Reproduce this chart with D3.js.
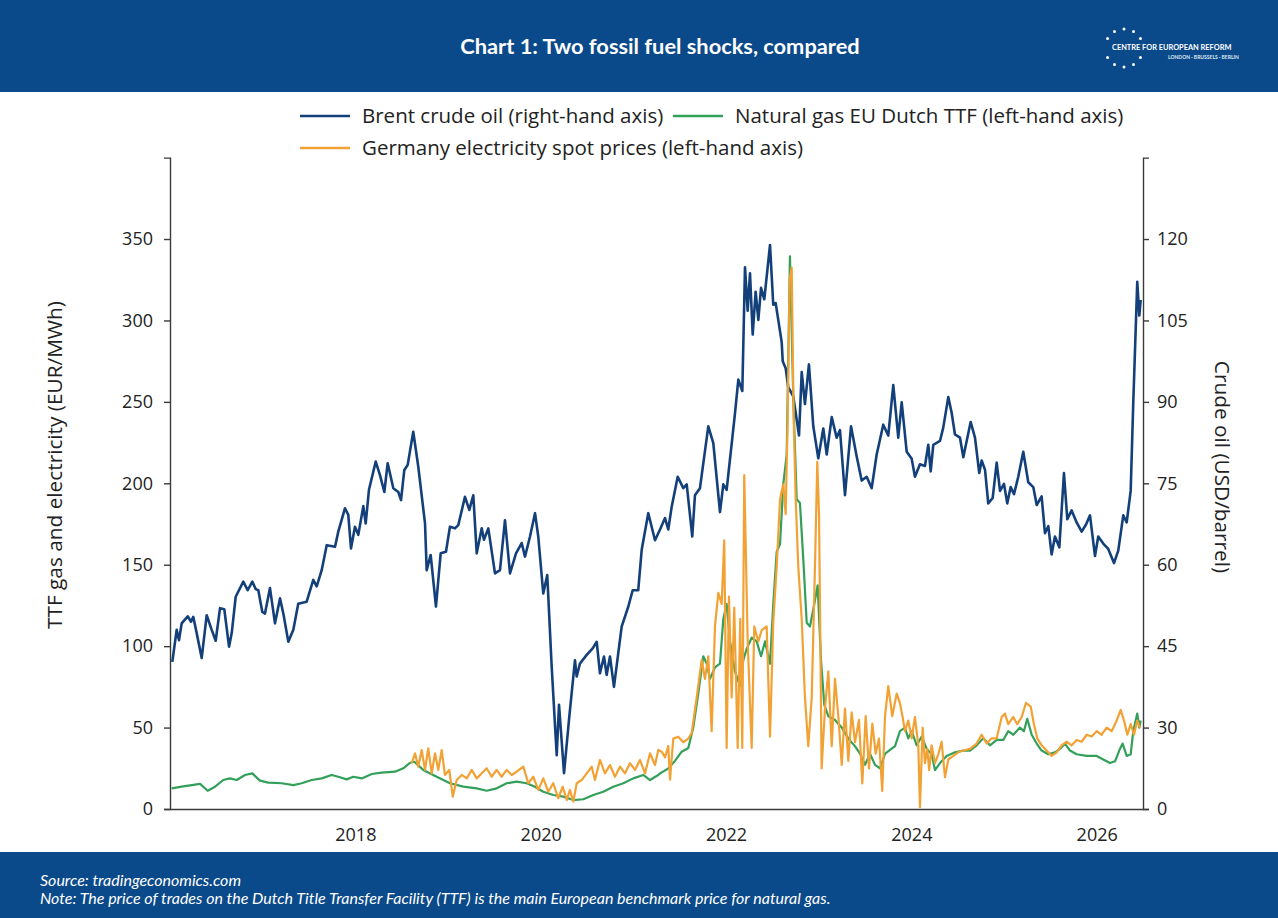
<!DOCTYPE html>
<html>
<head>
<meta charset="utf-8">
<script src="https://cdn.jsdelivr.net/npm/d3@7/dist/d3.min.js"></script>
<style>
  html, body { margin: 0; padding: 0; background: #fff; }
  svg { display: block; }
</style>
</head>
<body>
<svg id="chart" width="1278" height="918"></svg>
<script>
// ---- Data (decimal year, value) ----
// Brent crude oil, USD/barrel (right-hand axis)
const brent = [
  [2016.025,42.1],[2016.072,48.0],[2016.097,46.1],[2016.126,49.2],[2016.191,50.5],[2016.227,49.5],
  [2016.251,50.4],[2016.288,47.4],[2016.342,42.8],[2016.396,50.7],[2016.450,48.0],[2016.493,46.0],
  [2016.540,52.0],[2016.586,51.8],[2016.637,44.9],[2016.666,47.4],[2016.709,54.1],[2016.791,56.9],
  [2016.838,55.3],[2016.888,56.9],[2016.925,55.5],[2016.953,55.3],[2016.996,51.3],[2017.025,51.0],
  [2017.079,55.7],[2017.133,49.2],[2017.187,53.8],[2017.223,51.0],[2017.277,45.8],[2017.331,48.0],
  [2017.384,52.8],[2017.475,53.2],[2017.546,57.2],[2017.583,56.0],[2017.637,59.0],[2017.691,63.6],
  [2017.781,63.3],[2017.816,66.1],[2017.888,70.4],[2017.924,69.2],[2017.953,63.0],[2017.996,67.0],
  [2018.032,65.5],[2018.086,70.8],[2018.112,67.6],[2018.147,73.8],[2018.220,79.0],[2018.266,76.5],
  [2018.313,73.4],[2018.349,78.7],[2018.410,74.1],[2018.464,73.4],[2018.493,71.9],[2018.528,77.4],
  [2018.565,78.4],[2018.625,84.5],[2018.679,78.1],[2018.752,67.6],[2018.770,59.0],[2018.813,61.8],
  [2018.870,52.3],[2018.921,62.1],[2018.978,62.4],[2019.021,67.0],[2019.075,66.7],[2019.111,67.3],
  [2019.183,72.5],[2019.230,70.1],[2019.273,72.8],[2019.310,62.1],[2019.364,66.7],[2019.388,64.6],
  [2019.435,66.7],[2019.507,58.4],[2019.561,59.0],[2019.615,68.2],[2019.669,58.4],[2019.734,62.1],
  [2019.795,64.0],[2019.831,61.5],[2019.885,65.2],[2019.939,69.5],[2019.974,65.2],[2020.028,54.7],
  [2020.071,58.1],[2020.119,41.2],[2020.173,24.9],[2020.198,34.2],[2020.252,21.6],[2020.309,32.0],
  [2020.370,42.4],[2020.389,39.4],[2020.424,41.8],[2020.497,43.4],[2020.561,44.6],[2020.605,45.8],
  [2020.640,40.0],[2020.683,43.1],[2020.712,39.7],[2020.748,43.1],[2020.791,37.5],[2020.874,48.6],
  [2020.946,52.3],[2020.993,55.3],[2021.053,55.3],[2021.090,62.7],[2021.161,69.5],[2021.215,65.8],
  [2021.234,64.5],[2021.288,66.5],[2021.342,68.6],[2021.377,66.5],[2021.414,70.7],[2021.479,76.2],
  [2021.539,74.1],[2021.576,74.8],[2021.636,65.2],[2021.665,72.8],[2021.719,74.1],[2021.809,85.5],
  [2021.863,82.4],[2021.935,69.7],[2021.971,74.8],[2022.007,73.8],[2022.097,87.9],[2022.133,94.1],
  [2022.176,92.0],[2022.205,114.8],[2022.234,106.8],[2022.259,113.7],[2022.288,102.4],[2022.320,110.3],
  [2022.349,105.1],[2022.378,111.0],[2022.413,108.9],[2022.475,118.9],[2022.510,107.9],[2022.536,108.2],
  [2022.601,101.0],[2022.612,97.5],[2022.644,96.2],[2022.672,92.7],[2022.726,91.0],[2022.788,83.8],
  [2022.817,95.5],[2022.852,89.6],[2022.895,96.9],[2022.942,85.5],[2022.996,79.6],[2023.050,85.1],
  [2023.087,80.3],[2023.141,87.2],[2023.194,83.4],[2023.230,84.8],[2023.284,72.8],[2023.349,85.5],
  [2023.410,80.0],[2023.464,75.5],[2023.518,76.2],[2023.572,74.1],[2023.626,80.3],[2023.697,85.8],
  [2023.751,83.8],[2023.805,93.1],[2023.859,83.4],[2023.896,89.9],[2023.950,80.8],[2024.004,79.5],
  [2024.039,76.2],[2024.093,78.5],[2024.147,78.2],[2024.183,82.1],[2024.209,77.2],[2024.237,82.1],
  [2024.309,82.8],[2024.345,85.3],[2024.399,90.9],[2024.435,88.0],[2024.471,84.0],[2024.525,83.4],
  [2024.561,79.8],[2024.640,86.3],[2024.687,83.4],[2024.733,76.9],[2024.759,79.2],[2024.795,77.5],
  [2024.830,71.3],[2024.878,72.3],[2024.921,78.8],[2024.957,73.6],[2025.000,74.9],[2025.035,71.3],
  [2025.072,74.3],[2025.108,73.0],[2025.154,76.2],[2025.208,80.8],[2025.262,75.2],[2025.316,74.3],
  [2025.353,71.0],[2025.406,72.6],[2025.442,65.8],[2025.478,67.1],[2025.514,61.9],[2025.550,65.2],
  [2025.597,63.2],[2025.647,76.9],[2025.683,68.4],[2025.730,70.0],[2025.784,67.8],[2025.838,66.1],
  [2025.885,67.4],[2025.928,69.1],[2025.982,61.6],[2026.017,65.2],[2026.071,63.9],[2026.125,62.9],
  [2026.187,60.3],[2026.233,62.6],[2026.287,69.1],[2026.324,67.8],[2026.367,73.6],[2026.395,89.9],
  [2026.438,112.1],[2026.460,105.9],[2026.475,108.8]
];

// Natural gas EU Dutch TTF, EUR/MWh (left-hand axis)
const ttf = [
  [2016.018,12.7],[2016.126,13.7],[2016.234,14.7],[2016.324,15.4],[2016.407,11.2],[2016.486,13.7],
  [2016.575,17.8],[2016.647,18.8],[2016.720,17.8],[2016.809,20.9],[2016.888,21.9],[2016.971,17.4],
  [2017.061,16.2],[2017.205,15.8],[2017.331,14.7],[2017.421,15.8],[2017.529,17.8],[2017.637,18.8],
  [2017.745,20.9],[2017.834,19.5],[2017.907,18.2],[2017.978,19.8],[2018.069,18.8],[2018.177,21.5],
  [2018.284,22.3],[2018.428,22.9],[2018.518,25.0],[2018.590,28.4],[2018.636,29.0],[2018.733,24.0],
  [2018.878,19.8],[2019.021,15.8],[2019.165,13.7],[2019.310,12.7],[2019.418,11.2],[2019.525,12.7],
  [2019.633,15.8],[2019.741,16.8],[2019.849,15.8],[2019.939,13.7],[2020.028,10.6],[2020.136,8.6],
  [2020.244,7.6],[2020.352,5.5],[2020.460,6.0],[2020.568,8.6],[2020.676,10.6],[2020.784,13.7],
  [2020.892,15.8],[2020.999,18.8],[2021.107,20.9],[2021.180,17.8],[2021.269,20.9],[2021.306,22.5],
  [2021.377,24.9],[2021.449,29.5],[2021.522,35.2],[2021.593,37.5],[2021.647,50.1],[2021.701,70.8],
  [2021.755,93.8],[2021.792,89.2],[2021.827,79.9],[2021.881,86.9],[2021.935,89.2],[2021.971,116.7],
  [2022.007,125.9],[2022.043,102.9],[2022.097,84.5],[2022.151,75.4],[2022.187,91.5],[2022.223,98.3],
  [2022.277,105.2],[2022.331,102.9],[2022.378,93.8],[2022.421,102.9],[2022.475,89.2],[2022.510,125.9],
  [2022.547,158.0],[2022.583,162.6],[2022.618,199.4],[2022.655,217.7],[2022.690,339.4],[2022.726,252.2],
  [2022.763,190.2],[2022.798,187.9],[2022.834,153.4],[2022.871,114.4],[2022.906,112.1],[2022.953,125.9],
  [2022.989,137.4],[2023.025,91.5],[2023.061,63.9],[2023.104,57.0],[2023.176,54.7],[2023.249,50.1],
  [2023.320,43.2],[2023.392,38.6],[2023.446,34.0],[2023.500,27.1],[2023.554,34.0],[2023.608,27.1],
  [2023.662,24.9],[2023.717,34.0],[2023.770,36.3],[2023.824,38.6],[2023.877,47.8],[2023.931,50.0],
  [2023.967,43.4],[2024.004,47.8],[2024.058,39.1],[2024.112,44.5],[2024.166,36.9],[2024.220,33.6],
  [2024.255,23.9],[2024.309,28.2],[2024.381,32.6],[2024.471,34.8],[2024.561,35.9],[2024.633,35.9],
  [2024.705,39.1],[2024.776,43.4],[2024.849,39.1],[2024.921,42.4],[2024.992,42.4],[2025.046,47.8],
  [2025.100,45.6],[2025.172,50.0],[2025.215,47.8],[2025.251,55.4],[2025.299,45.6],[2025.353,40.2],
  [2025.406,35.9],[2025.478,33.6],[2025.550,34.8],[2025.604,36.9],[2025.658,40.2],[2025.712,35.9],
  [2025.784,33.6],[2025.892,32.6],[2026.000,32.6],[2026.071,30.4],[2026.144,28.2],[2026.198,29.3],
  [2026.251,36.9],[2026.280,40.2],[2026.324,32.6],[2026.367,33.6],[2026.395,47.8],[2026.438,58.6],
  [2026.460,50.0],[2026.475,54.3]
];

// Germany electricity spot prices, EUR/MWh (left-hand axis)
const power = [
  [2018.608,28.1],[2018.644,34.2],[2018.679,26.0],[2018.716,36.2],[2018.752,24.0],[2018.787,37.3],
  [2018.824,21.9],[2018.860,34.2],[2018.895,24.0],[2018.932,36.2],[2018.967,20.9],[2019.014,24.0],
  [2019.051,7.6],[2019.094,17.8],[2019.148,20.9],[2019.202,18.8],[2019.256,24.0],[2019.310,18.8],
  [2019.364,21.9],[2019.418,25.0],[2019.471,19.8],[2019.525,24.0],[2019.579,19.8],[2019.633,24.0],
  [2019.687,20.9],[2019.741,22.9],[2019.813,26.0],[2019.866,15.8],[2019.920,19.8],[2019.974,11.7],
  [2020.028,18.8],[2020.082,10.6],[2020.136,15.8],[2020.190,6.6],[2020.238,13.7],[2020.281,5.5],
  [2020.316,11.7],[2020.352,4.5],[2020.389,15.8],[2020.443,17.8],[2020.497,21.9],[2020.551,26.0],
  [2020.586,17.8],[2020.640,30.1],[2020.694,21.9],[2020.748,27.0],[2020.802,19.8],[2020.856,26.0],
  [2020.910,21.9],[2020.964,28.1],[2021.018,24.0],[2021.072,30.1],[2021.126,21.9],[2021.180,34.2],
  [2021.234,27.0],[2021.269,36.3],[2021.306,35.2],[2021.342,31.7],[2021.377,38.6],[2021.396,18.0],
  [2021.431,43.2],[2021.485,44.4],[2021.539,41.0],[2021.593,43.2],[2021.630,46.7],[2021.684,68.5],
  [2021.738,91.5],[2021.773,79.9],[2021.809,93.8],[2021.845,47.8],[2021.881,112.1],[2021.917,132.7],
  [2021.953,125.9],[2021.981,164.9],[2022.007,37.5],[2022.032,130.5],[2022.061,68.5],[2022.089,123.6],
  [2022.126,37.5],[2022.154,116.7],[2022.176,37.5],[2022.197,205.1],[2022.234,102.9],[2022.277,37.5],
  [2022.305,112.1],[2022.349,102.9],[2022.385,109.8],[2022.439,112.1],[2022.475,44.4],[2022.510,114.4],
  [2022.547,148.8],[2022.583,190.2],[2022.618,199.4],[2022.644,181.0],[2022.666,240.7],[2022.687,325.7],
  [2022.709,332.5],[2022.730,240.7],[2022.752,190.2],[2022.780,148.8],[2022.817,116.7],[2022.852,68.5],
  [2022.888,38.6],[2022.925,68.5],[2022.960,148.8],[2022.985,213.1],[2023.004,181.0],[2023.032,24.9],
  [2023.068,61.6],[2023.104,84.5],[2023.141,38.6],[2023.176,79.9],[2023.212,57.0],[2023.249,27.1],
  [2023.284,61.6],[2023.320,29.5],[2023.356,59.3],[2023.392,41.0],[2023.435,54.7],[2023.471,15.7],
  [2023.507,57.0],[2023.543,24.9],[2023.579,52.4],[2023.615,34.0],[2023.651,43.2],[2023.686,11.1],
  [2023.716,57.0],[2023.751,75.4],[2023.794,57.0],[2023.842,70.8],[2023.877,65.1],[2023.906,56.5],
  [2023.931,47.8],[2023.967,54.3],[2024.004,43.4],[2024.039,56.5],[2024.075,39.1],[2024.093,1.1],
  [2024.122,50.0],[2024.147,28.2],[2024.172,36.9],[2024.193,23.9],[2024.219,39.1],[2024.255,28.2],
  [2024.291,33.6],[2024.327,41.3],[2024.363,19.5],[2024.399,30.4],[2024.453,32.6],[2024.507,34.8],
  [2024.561,35.9],[2024.633,36.9],[2024.705,40.2],[2024.759,45.6],[2024.813,40.2],[2024.867,43.4],
  [2024.921,43.4],[2024.975,56.5],[2025.010,58.6],[2025.046,52.1],[2025.100,56.5],[2025.143,52.1],
  [2025.191,56.5],[2025.237,65.1],[2025.288,62.9],[2025.323,52.1],[2025.359,43.4],[2025.406,39.1],
  [2025.460,35.9],[2025.514,32.6],[2025.568,34.8],[2025.622,39.1],[2025.676,41.3],[2025.730,39.1],
  [2025.784,42.4],[2025.838,41.3],[2025.892,45.6],[2025.946,44.5],[2026.000,47.8],[2026.054,45.6],
  [2026.108,50.0],[2026.162,47.8],[2026.216,54.3],[2026.259,60.8],[2026.295,54.3],[2026.331,45.6],
  [2026.367,52.1],[2026.403,45.6],[2026.438,54.3],[2026.467,50.0]
];

// ---- Axis ticks and labels ----
const yearTicks = [2018, 2020, 2022, 2024, 2026];
const leftTicks = [0, 50, 100, 150, 200, 250, 300, 350];
const rightTicks = [15, 30, 45, 60, 75, 90, 105, 120];
const rightTickLabels = ["0", "30", "45", "60", "75", "90", "105", "120"];

const titleText = "Chart 1: Two fossil fuel shocks, compared";
const leftAxisTitle = "TTF gas and electricity (EUR/MWh)";
const rightAxisTitle = "Crude oil (USD/barrel)";
const sourceText = "Source: tradingeconomics.com";
const noteText = "Note: The price of trades on the Dutch Title Transfer Facility (TTF) is the main European benchmark price for natural gas.";

const series = [
  { key: "brent", label: "Brent crude oil (right-hand axis)", color: "#13407a", width: 2.6, data: brent, axis: "right" },
  { key: "ttf", label: "Natural gas EU Dutch TTF (left-hand axis)", color: "#33a05a", width: 2.2, data: ttf, axis: "left" },
  { key: "power", label: "Germany electricity spot prices (left-hand axis)", color: "#f2a234", width: 2.2, data: power, axis: "left" }
];

// ---- Layout ----
const W = 1278, H = 918;
const navy = "#0b4a8a";
const axisColor = "#3a3a3a";
const tickFont = "'Open Sans', 'DejaVu Sans', sans-serif";

const svg = d3.select("#chart");

const x = d3.scaleLinear().domain([2016, 2026.5]).range([170, 1143]);
const yL = d3.scaleLinear().domain([0, 400]).range([809, 157.6]);
const yR = d3.scaleLinear().domain([15, 135]).range([809, 157.6]);

// Header band
svg.append("rect").attr("x", 0).attr("y", 0).attr("width", W).attr("height", 92).attr("fill", navy);
svg.append("text")
  .attr("x", 660).attr("y", 54)
  .attr("text-anchor", "middle")
  .attr("fill", "#fff")
  .attr("font-family", "Lato, 'Open Sans', sans-serif")
  .attr("font-weight", 700)
  .attr("font-size", 21.8)
  .text(titleText);

// Logo: ring of stars and name
const logo = svg.append("g").attr("transform", "translate(1124,48)");
d3.range(12).filter(i => i !== 3 && i !== 9).forEach(i => {
  const a = i * Math.PI / 6;
  logo.append("circle")
    .attr("cx", 19 * Math.sin(a)).attr("cy", -19 * Math.cos(a))
    .attr("r", 1.5).attr("fill", "#fff");
});
svg.append("text")
  .attr("x", 1112).attr("y", 50)
  .attr("fill", "#fff")
  .attr("font-family", "Lato, sans-serif").attr("font-weight", 700)
  .attr("font-size", 7.4)
  .text("CENTRE FOR EUROPEAN REFORM");
svg.append("text")
  .attr("x", 1168).attr("y", 59)
  .attr("fill", "#dfe8f3")
  .attr("font-family", "Lato, sans-serif").attr("font-weight", 700)
  .attr("font-size", 5)
  .text("LONDON \u00b7 BRUSSELS \u00b7 BERLIN");

// Footer band
svg.append("rect").attr("x", 0).attr("y", 852).attr("width", W).attr("height", H - 852).attr("fill", navy);
svg.append("text")
  .attr("x", 40).attr("y", 886)
  .attr("fill", "#fff")
  .attr("font-family", "Lato, sans-serif").attr("font-style", "italic")
  .attr("font-size", 16)
  .text(sourceText);
svg.append("text")
  .attr("x", 40).attr("y", 904)
  .attr("fill", "#fff")
  .attr("font-family", "Lato, sans-serif").attr("font-style", "italic")
  .attr("font-size", 16)
  .text(noteText);

// Axes
function styleAxis(g) {
  g.selectAll("path, line").attr("stroke", axisColor).attr("stroke-width", 1.4);
  g.selectAll("text").attr("fill", "#222").attr("font-family", tickFont).attr("font-size", 18);
}

svg.append("g")
  .attr("transform", "translate(170,0)")
  .call(d3.axisLeft(yL).tickValues(leftTicks).tickSize(6).tickSizeOuter(6).tickPadding(11).tickFormat(d3.format("d")))
  .call(styleAxis);

svg.append("g")
  .attr("transform", "translate(1143,0)")
  .call(d3.axisRight(yR).tickValues(rightTicks).tickSize(6).tickSizeOuter(6).tickPadding(8)
    .tickFormat((d, i) => rightTickLabels[i]))
  .call(styleAxis);

svg.append("g")
  .attr("transform", "translate(0,809)")
  .call(d3.axisBottom(x).tickValues(yearTicks).tickSize(0).tickSizeOuter(0).tickPadding(19).tickFormat(d3.format("d")))
  .call(styleAxis);

// Axis titles
svg.append("text")
  .attr("transform", "translate(62,465) rotate(-90)")
  .attr("text-anchor", "middle")
  .attr("fill", "#222").attr("font-family", tickFont).attr("font-size", 20.8)
  .text(leftAxisTitle);
svg.append("text")
  .attr("transform", "translate(1215,467) rotate(90)")
  .attr("text-anchor", "middle")
  .attr("fill", "#222").attr("font-family", tickFont).attr("font-size", 20.8)
  .text(rightAxisTitle);

// Series lines
const plot = svg.append("g");
series.forEach(s => {
  const yScale = s.axis === "right" ? yR : yL;
  const line = d3.line().x(d => x(d[0])).y(d => yScale(d[1]));
  plot.append("path")
    .datum(s.data)
    .attr("fill", "none")
    .attr("stroke", s.color)
    .attr("stroke-width", s.width)
    .attr("stroke-linejoin", "round")
    .attr("d", line);
});

// Legend
const legendPos = [
  { sx: 300, tx: 362, y: 116 },
  { sx: 673, tx: 735, y: 116 },
  { sx: 300, tx: 362, y: 148 }
];
const legend = svg.append("g");
series.forEach((s, i) => {
  const p = legendPos[i];
  legend.append("line")
    .attr("x1", p.sx).attr("x2", p.sx + 50)
    .attr("y1", p.y).attr("y2", p.y)
    .attr("stroke", s.color).attr("stroke-width", 2.4);
  legend.append("text")
    .attr("x", p.tx).attr("y", p.y)
    .attr("dy", "0.35em")
    .attr("fill", "#222").attr("font-family", tickFont).attr("font-size", 20.5)
    .text(s.label);
});
</script>
</body>
</html>
